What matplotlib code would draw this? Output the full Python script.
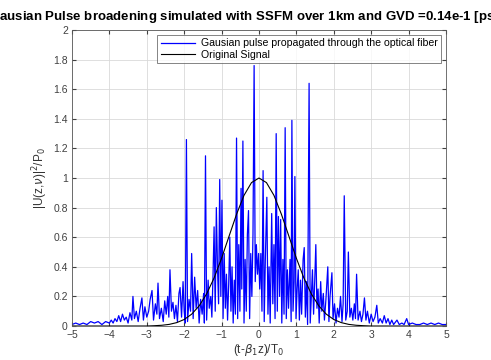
import numpy as np
import matplotlib.pyplot as plt

# propagated pulse |U|^2 (peaks and troughs)
t_prop = [-5.0, -4.9, -4.8, -4.7, -4.6, -4.5, -4.4, -4.3, -4.2, -4.1, -4.0,
          -3.95, -3.9, -3.85, -3.8, -3.75, -3.7, -3.65, -3.6, -3.55, -3.5,
          -3.45, -3.4, -3.37, -3.33, -3.28, -3.23, -3.18, -3.13, -3.09, -3.05,
          -3.0, -2.95, -2.91, -2.86, -2.82, -2.77, -2.73, -2.70, -2.66, -2.61,
          -2.56, -2.52, -2.48, -2.44, -2.41, -2.38, -2.34, -2.30, -2.26, -2.22,
          -2.18, -2.14, -2.11, -2.07, -2.03, -2.0, -1.97, -1.94, -1.91, -1.87,
          -1.83, -1.80, -1.76, -1.72, -1.68, -1.64, -1.60, -1.56, -1.52, -1.48,
          -1.46, -1.43, -1.40, -1.36, -1.33, -1.29, -1.26, -1.23, -1.20, -1.17,
          -1.14, -1.11, -1.08, -1.05, -1.02, -0.99, -0.96, -0.93, -0.90, -0.87,
          -0.84, -0.81, -0.78, -0.75, -0.72, -0.69, -0.66, -0.63, -0.60, -0.57,
          -0.54, -0.51, -0.48, -0.46, -0.43, -0.40, -0.37, -0.34, -0.31, -0.28,
          -0.25, -0.22, -0.19, -0.16, -0.13, -0.10, -0.07, -0.04, -0.01, 0.02,
          0.05, 0.08, 0.11, 0.14, 0.17, 0.21, 0.24, 0.27, 0.30, 0.34,
          0.37, 0.40, 0.43, 0.46, 0.49, 0.52, 0.55, 0.58, 0.61, 0.64,
          0.67, 0.70, 0.73, 0.76, 0.79, 0.83, 0.86, 0.88, 0.91, 0.94,
          0.96, 0.99, 1.02, 1.05, 1.08, 1.11, 1.14, 1.18, 1.21, 1.24,
          1.27, 1.30, 1.34, 1.37, 1.40, 1.43, 1.46, 1.49, 1.52, 1.55,
          1.58, 1.61, 1.65, 1.68, 1.72, 1.75, 1.79, 1.84, 1.87, 1.90,
          1.95, 1.98, 2.02, 2.06, 2.10, 2.14, 2.18, 2.22, 2.25, 2.28,
          2.32, 2.36, 2.39, 2.43, 2.47, 2.51, 2.55, 2.58, 2.61, 2.65,
          2.70, 2.74, 2.78, 2.82, 2.86, 2.90, 2.95, 3.00, 3.05, 3.10,
          3.15, 3.19, 3.24, 3.30, 3.35, 3.40, 3.45, 3.50, 3.55, 3.60,
          3.69, 3.75, 3.82, 3.88, 3.95, 4.0, 4.1, 4.2, 4.3, 4.4,
          4.5, 4.6, 4.7, 4.8, 4.9, 5.0]
u_prop = [0.01, 0.02, 0.01, 0.02, 0.01, 0.03, 0.02, 0.03, 0.01, 0.03, 0.02,
          0.04, 0.02, 0.05, 0.03, 0.07, 0.03, 0.08, 0.04, 0.06, 0.02,
          0.09, 0.04, 0.20, 0.05, 0.10, 0.03, 0.12, 0.19, 0.04, 0.13,
          0.06, 0.10, 0.18, 0.24, 0.04, 0.15, 0.08, 0.29, 0.05, 0.12,
          0.03, 0.17, 0.08, 0.20, 0.06, 0.38, 0.10, 0.16, 0.05, 0.14,
          0.03, 0.22, 0.26, 0.06, 0.30, 0.10, 0.02, 1.26, 0.03, 0.18,
          0.10, 0.49, 0.05, 0.33, 0.12, 0.24, 0.02, 0.18, 0.08, 0.22,
          0.02, 1.15, 0.04, 0.31, 0.12, 0.20, 0.06, 0.33, 0.67, 0.10,
          0.80, 0.40, 0.15, 0.99, 0.20, 0.85, 0.05, 0.49, 0.12, 0.35,
          0.04, 0.28, 0.60, 0.10, 0.40, 0.02, 0.31, 0.08, 1.27, 0.05,
          0.55, 0.10, 0.93, 0.25, 1.25, 0.02, 0.45, 0.10, 0.62, 0.78,
          0.05, 0.49, 0.20, 0.62, 1.76, 0.30, 0.55, 0.35, 0.49, 0.25,
          0.49, 0.10, 1.05, 0.03, 0.45, 0.87, 0.08, 0.40, 0.02, 0.76,
          0.15, 0.55, 0.05, 1.30, 0.10, 0.74, 0.20, 0.72, 0.02, 0.45,
          0.08, 1.34, 0.05, 0.38, 0.12, 0.45, 0.03, 1.39, 0.10, 0.30,
          1.01, 0.05, 0.25, 0.38, 0.04, 0.31, 0.08, 0.45, 0.53, 0.06,
          0.30, 0.01, 1.64, 0.02, 0.20, 0.38, 0.08, 0.30, 0.55, 0.12,
          0.25, 0.02, 0.30, 0.10, 0.22, 0.04, 0.18, 0.40, 0.03, 0.20,
          0.36, 0.05, 0.15, 0.02, 0.12, 0.06, 0.20, 0.03, 0.15, 0.88,
          0.04, 0.10, 0.50, 0.06, 0.12, 0.04, 0.15, 0.05, 0.35, 0.04,
          0.10, 0.03, 0.08, 0.19, 0.04, 0.10, 0.02, 0.08, 0.03, 0.06,
          0.14, 0.02, 0.05, 0.02, 0.07, 0.02, 0.05, 0.01, 0.04, 0.01,
          0.04, 0.01, 0.02, 0.01, 0.05, 0.01, 0.02, 0.01, 0.01, 0.02,
          0.01, 0.02, 0.01, 0.02, 0.01, 0.01]

# original gaussian pulse
t_orig = [-5.0, -3.0, -2.8, -2.6, -2.4, -2.2, -2.0, -1.8, -1.6, -1.4, -1.2,
          -1.0, -0.8, -0.6, -0.4, -0.2, 0.0, 0.2, 0.4, 0.6, 0.8,
          1.0, 1.2, 1.4, 1.6, 1.8, 2.0, 2.2, 2.4, 2.6, 2.8, 3.0, 5.0]
u_orig = [0.0, 0.0, 0.002, 0.005, 0.011, 0.023, 0.044, 0.080, 0.136, 0.217, 0.325,
          0.458, 0.607, 0.755, 0.883, 0.969, 1.0, 0.969, 0.883, 0.755, 0.607,
          0.458, 0.325, 0.217, 0.136, 0.080, 0.044, 0.023, 0.011, 0.005, 0.002, 0.0, 0.0]

plt.rcParams['font.family'] = ['Liberation Sans', 'DejaVu Sans']

fig = plt.figure(figsize=(4.91, 3.6), dpi=100)
ax = fig.add_axes([0.1466, 0.0944, 0.7617, 0.8222])

ax.plot(t_prop, u_prop, color='#0000ff', lw=0.9,
        label='Gausian pulse propagated through the optical fiber')
ax.plot(t_orig, u_orig, color='k', lw=0.8, label='Original Signal')

ax.set_xlim(-5, 5)
ax.set_ylim(0, 2)
ax.set_xticks(np.arange(-5, 6, 1))
ax.set_yticks(np.arange(0, 2.01, 0.2))
ax.set_yticklabels(['0', '0.2', '0.4', '0.6', '0.8', '1', '1.2', '1.4', '1.6', '1.8', '2'])
ax.grid(True, color='0.85', lw=0.6)
ax.set_axisbelow(True)
ax.tick_params(direction='in', length=3, labelsize=7.5, colors='0.25',
               top=True, right=True, pad=3)
for s in ax.spines.values():
    s.set_color('0.35')
    s.set_linewidth(0.6)

ax.set_xlabel(r'(t-$\beta_1$z)/T$_0$', fontsize=8.5, color='0.2', labelpad=1)
ax.set_ylabel(r'|U(z,$\nu$)|$^2$/P$_0$', fontsize=8.5, color='0.2', labelpad=2)
ax.set_title('Gausian Pulse broadening simulated with SSFM over 1km and GVD =0.14e-1 [ps$^2$/km]',
             fontsize=9.5, fontweight='bold', pad=6)

leg = ax.legend(loc='upper right', fontsize=7.6, frameon=True, fancybox=False,
                handlelength=3.3, borderpad=0.3, labelspacing=0.1,
                borderaxespad=0.5, handletextpad=0.5)
leg.get_frame().set_edgecolor('0.3')
leg.get_frame().set_linewidth(0.6)

fig.savefig('out.png', dpi=100)
